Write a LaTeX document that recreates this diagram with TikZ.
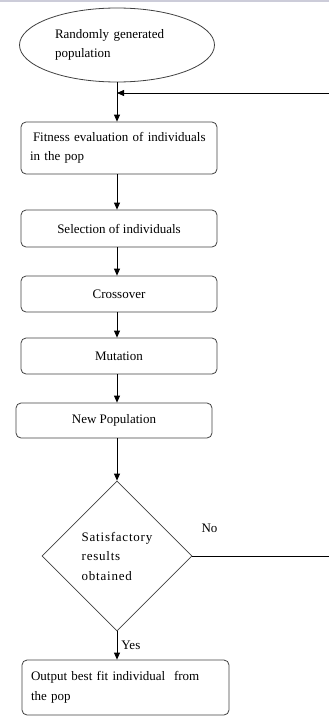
\documentclass[tikz,border=0pt]{standalone}
\usepackage{fontspec}
\setmainfont{Liberation Serif}
\usetikzlibrary{shapes.geometric,arrows.meta}

\tikzset{
  stepbox/.style={draw=black!75, line width=0.8pt, rounded corners=5pt, minimum width=196pt, inner sep=0pt},
  flow/.style={line width=0.8pt, -{Triangle[length=7pt,width=6pt]}},
}

\begin{document}
\begin{tikzpicture}[x=1pt,y=-1pt,font=\fontsize{13}{19.5}\selectfont]
            \useasboundingbox (0,0) rectangle (329,720);
            \fill[blue!15!gray!35] (0,0) rectangle (329,1.5);
            \node[draw=black!75, line width=0.8pt, ellipse, minimum width=195pt, minimum height=74pt, inner sep=0pt, text width=124pt, align=left] (start) at (117,45) {Randomly generated\\population};
            \node[stepbox, minimum height=52pt, text width=178pt, inner xsep=9pt, align=left] (fit) at (119,148) {\hspace*{3pt}Fitness evaluation of individuals\\in the pop};
            \node[stepbox, minimum height=37pt] (sel) at (119,228.5) {Selection of individuals\hspace{22pt}};
            \node[stepbox, minimum height=36pt] (cross) at (119,294) {Crossover\hspace{22pt}};
            \node[stepbox, minimum height=36pt] (mut) at (119,356) {Mutation\hspace{22pt}};
            \node[stepbox, minimum height=35pt] (newpop) at (114,420.5) {New Population\hspace{22pt}};
            \node[draw=black!75, line width=0.8pt, diamond, minimum width=150pt, minimum height=150pt, inner sep=0pt, align=left, font=\fontsize{13}{19.5}\selectfont\addfontfeature{LetterSpace=6}] (check) at (117,556) {Satisfactory\\results\\obtained};
            \node[stepbox, minimum width=207pt, minimum height=55pt, text width=189pt, inner xsep=9pt, align=left] (out) at (125.5,687.5) {Output best fit individual~ from\\the pop};
            \node (no) at (209.5,528) {No};
            \coordinate (back) at (332,93);
            \draw[flow] (start.south) -- (start.south |- fit.north);
            \draw[flow] (start.south |- fit.south) -- (start.south |- sel.north);
            \draw[flow] (start.south |- sel.south) -- (start.south |- cross.north);
            \draw[flow] (start.south |- cross.south) -- (start.south |- mut.north);
            \draw[flow] (start.south |- mut.south) -- (start.south |- newpop.north);
            \draw[flow] (start.south |- newpop.south) -- (check.north);
            \draw[flow] (check.south) -- (start.south |- out.north) node[midway, right, inner sep=4pt] (yes) {Yes};
            \draw[flow] (check.east) -| (back) -- (start.south |- back);
        \end{tikzpicture}
\end{document}
